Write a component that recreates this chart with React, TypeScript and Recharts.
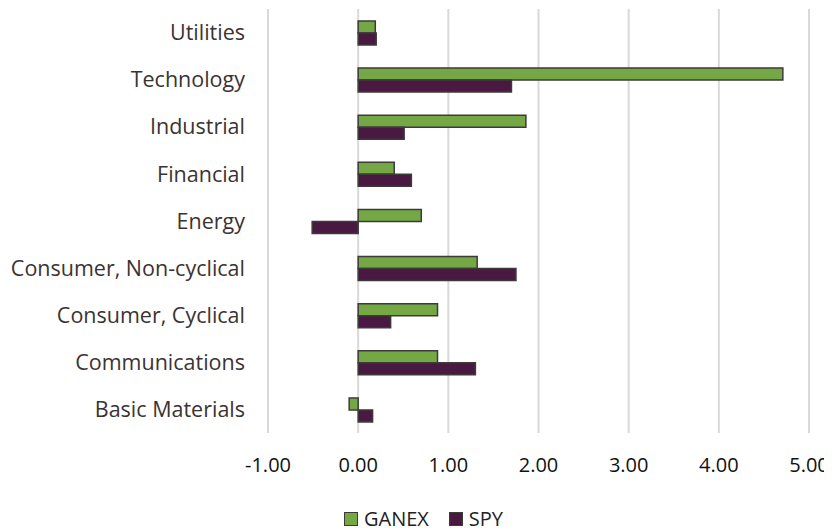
import React from 'react';
import { BarChart, Bar, XAxis, YAxis, CartesianGrid, Legend } from 'recharts';

const sectors = [
  'Utilities',
  'Technology',
  'Industrial',
  'Financial',
  'Energy',
  'Consumer, Non-cyclical',
  'Consumer, Cyclical',
  'Communications',
  'Basic Materials',
];
const ganex = [0.19, 4.71, 1.86, 0.4, 0.7, 1.32, 0.88, 0.88, -0.1];
const spy = [0.2, 1.7, 0.51, 0.59, -0.51, 1.75, 0.36, 1.3, 0.16];
const xTicks = [-1, 0, 1, 2, 3, 4, 5];

const data = sectors.map((sector, i) => ({ sector, GANEX: ganex[i], SPY: spy[i] }));

const GREEN = '#74A844';
const PURPLE = '#4A1942';
const EDGE = '#3f3a3a';
const FONT = '"Open Sans", sans-serif';

function LegendContent() {
  const items = [
    { name: 'GANEX', color: GREEN },
    { name: 'SPY', color: PURPLE },
  ];
  return (
    <div style={{ display: 'flex', justifyContent: 'center', gap: 20, fontFamily: FONT, fontSize: 20, lineHeight: '24px', height: 24, color: '#222', marginLeft: 30 }}>
      {items.map((it) => (
        <div key={it.name} style={{ display: 'flex', alignItems: 'center' }}>
          <span style={{ width: 12, height: 12, background: it.color, border: `1.5px solid ${EDGE}`, marginRight: 6, display: 'inline-block' }} />
          <span>{it.name}</span>
        </div>
      ))}
    </div>
  );
}

export default function App() {
  return (
    <div style={{ width: 824, height: 523 }}>
      <BarChart
        width={824}
        height={523}
        data={data}
        layout="vertical"
        margin={{ top: 1, right: 23, left: 0, bottom: 0 }}
        barSize={12}
        barGap={0}
      >
        <CartesianGrid horizontal={false} stroke="#d9d9d9" strokeWidth={2} />
        <XAxis
          type="number"
          domain={[-1, 5]}
          ticks={xTicks}
          tickFormatter={(v: number) => v.toFixed(2)}
          axisLine={false}
          tickLine={false}
          tickMargin={19}
          height={74}
          tick={{ fill: '#111', fontSize: 20, fontFamily: FONT }}
        />
        <YAxis
          type="category"
          dataKey="sector"
          width={260}
          axisLine={false}
          tickLine={false}
          tickMargin={17}
          interval={0}
          tick={{ fill: '#3b3331', fontSize: 21.5, fontFamily: FONT }}
        />
        <Legend verticalAlign="bottom" height={24} content={<LegendContent />} />
        <Bar dataKey="GANEX" fill={GREEN} stroke={EDGE} strokeWidth={1.5} isAnimationActive={false} />
        <Bar dataKey="SPY" fill={PURPLE} stroke={EDGE} strokeWidth={1.5} isAnimationActive={false} />
      </BarChart>
    </div>
  );
}
